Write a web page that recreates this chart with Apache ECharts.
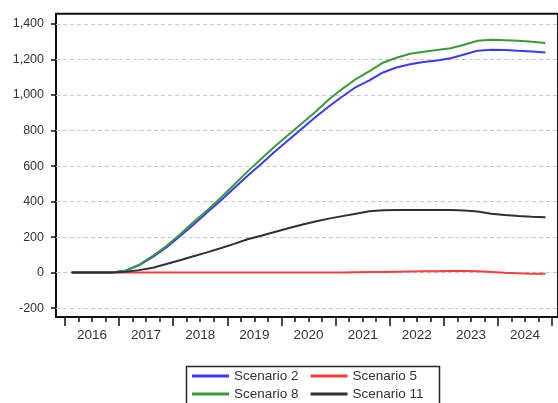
<!DOCTYPE html>
<html>
<head>
<meta charset="utf-8">
<script src="https://cdn.jsdelivr.net/npm/echarts@6/dist/echarts.min.js"></script>
<style>
  html, body { margin: 0; padding: 0; background: #fff; }
  #chart { width: 558px; height: 403px; }
</style>
</head>
<body>
<div id="chart"></div>
<script>
// Quarterly observations, 2016Q1 .. 2024Q4
const years = [2016, 2017, 2018, 2019, 2020, 2021, 2022, 2023, 2024];
const quarters = [];
years.forEach(y => { for (let q = 1; q <= 4; q++) quarters.push(y + 'Q' + q); });

const scenario2 = [
  0, 0, 0, 0, 10, 42, 88, 142, 205, 270, 338, 405,
  475, 545, 612, 680, 745, 810, 875, 935, 992, 1045, 1082, 1127,
  1155, 1173, 1186, 1195, 1207, 1228, 1250, 1255, 1254, 1249, 1245, 1240
];
const scenario5 = [
  0, 0, 0, 0, 0, 0, 0, 0, 0, 0, 0, 0,
  0, 0, 0, 0, 0, 0, 0, 0, 1, 2, 3, 4,
  5, 6, 7, 8, 9, 9, 7, 3, -1, -4, -6, -7
];
const scenario8 = [
  0, 0, 0, 1, 12, 45, 95, 150, 215, 285, 350, 420,
  495, 570, 640, 710, 775, 840, 905, 975, 1035, 1090, 1135, 1182,
  1210, 1232, 1244, 1253, 1263, 1283, 1306, 1311, 1309, 1306, 1300, 1293
];
const scenario11 = [
  0, 0, 0, 0, 5, 14, 27, 48, 70, 92, 114, 137,
  162, 188, 208, 229, 250, 270, 288, 304, 318, 332, 345, 351,
  353, 353, 353, 353, 353, 350, 344, 332, 324, 319, 315, 312
];

const seriesNames = ['Scenario 2', 'Scenario 5', 'Scenario 8', 'Scenario 11'];
const seriesValues = [scenario2, scenario5, scenario8, scenario11];
const seriesColors = ['#3a3aff', '#ff3b3b', '#3a9a3a', '#303030'];

const yTicks = [-200, 0, 200, 400, 600, 800, 1000, 1200, 1400];

// each quarter is placed at its midpoint on a continuous time axis
function quarterTime(label) {
  const y = parseInt(label.slice(0, 4), 10);
  const q = parseInt(label.slice(5), 10);
  return y + (q - 0.5) / 4;
}

const xMin = 2015.836, xMax = 2025.108;
const yearBounds = years.concat([years[years.length - 1] + 1]);
const yearMids = years.map(y => y + 0.5);
const quarterBounds = [];
years.forEach(y => { [0.25, 0.5, 0.75].forEach(f => quarterBounds.push(y + f)); });

const labelFont = { fontFamily: 'Liberation Sans, Arial, sans-serif', color: '#333' };

const chart = echarts.init(document.getElementById('chart'), null, { renderer: 'canvas' });
chart.setOption({
  animation: false,
  backgroundColor: '#fff',
  grid: {
    left: 56, top: 13.7, right: -4, bottom: 86,
    show: true, borderColor: '#111', borderWidth: 2, backgroundColor: 'transparent'
  },
  xAxis: [
    {
      type: 'value', min: xMin, max: xMax, position: 'bottom',
      axisLine: { show: false, onZero: false },
      splitLine: { show: false },
      axisTick: { show: true, inside: false, length: 9, customValues: yearBounds,
                  lineStyle: { color: '#111', width: 1.5 } },
      axisLabel: { show: true, customValues: yearMids, margin: 11, fontSize: 13.5,
                   formatter: v => String(Math.floor(v)), ...labelFont }
    },
    {
      type: 'value', min: xMin, max: xMax, position: 'bottom',
      axisLine: { show: false, onZero: false },
      splitLine: { show: false },
      axisTick: { show: true, inside: false, length: 5, customValues: quarterBounds,
                  lineStyle: { color: '#111', width: 1.5 } },
      axisLabel: { show: false }
    }
  ],
  yAxis: {
    type: 'value', min: -250, max: 1458,
    axisLine: { show: false },
    axisTick: { show: true, inside: false, length: 5, customValues: yTicks,
                lineStyle: { color: '#111', width: 1.5 } },
    axisLabel: { customValues: yTicks, margin: 12, fontSize: 12.5,
                 formatter: v => v.toLocaleString('en-US'), ...labelFont },
    splitLine: { show: true, lineStyle: { color: '#c8c8c8', width: 1, type: [4, 3] } }
  },
  legend: [
    {
      data: seriesNames.slice(0, 2), left: 192, top: 369, padding: 0,
      icon: 'rect', itemWidth: 37, itemHeight: 3, itemGap: 12,
      textStyle: { fontSize: 13.5, ...labelFont }
    },
    {
      data: seriesNames.slice(2, 4), left: 192, top: 387, padding: 0,
      icon: 'rect', itemWidth: 37, itemHeight: 3, itemGap: 12,
      textStyle: { fontSize: 13.5, ...labelFont }
    }
  ],
  graphic: [
    {
      type: 'rect', left: 184, top: 364, silent: true,
      shape: { width: 253, height: 60 },
      style: { fill: 'none', stroke: '#222', lineWidth: 1.5 }
    }
  ],
  series: seriesNames.map((name, k) => ({
    name: name,
    type: 'line',
    xAxisIndex: 0,
    showSymbol: false,
    smooth: false,
    lineStyle: { width: 2, color: seriesColors[k] },
    itemStyle: { color: seriesColors[k] },
    data: quarters.map((q, i) => [quarterTime(q), seriesValues[k][i]])
  }))
});
</script>
</body>
</html>
